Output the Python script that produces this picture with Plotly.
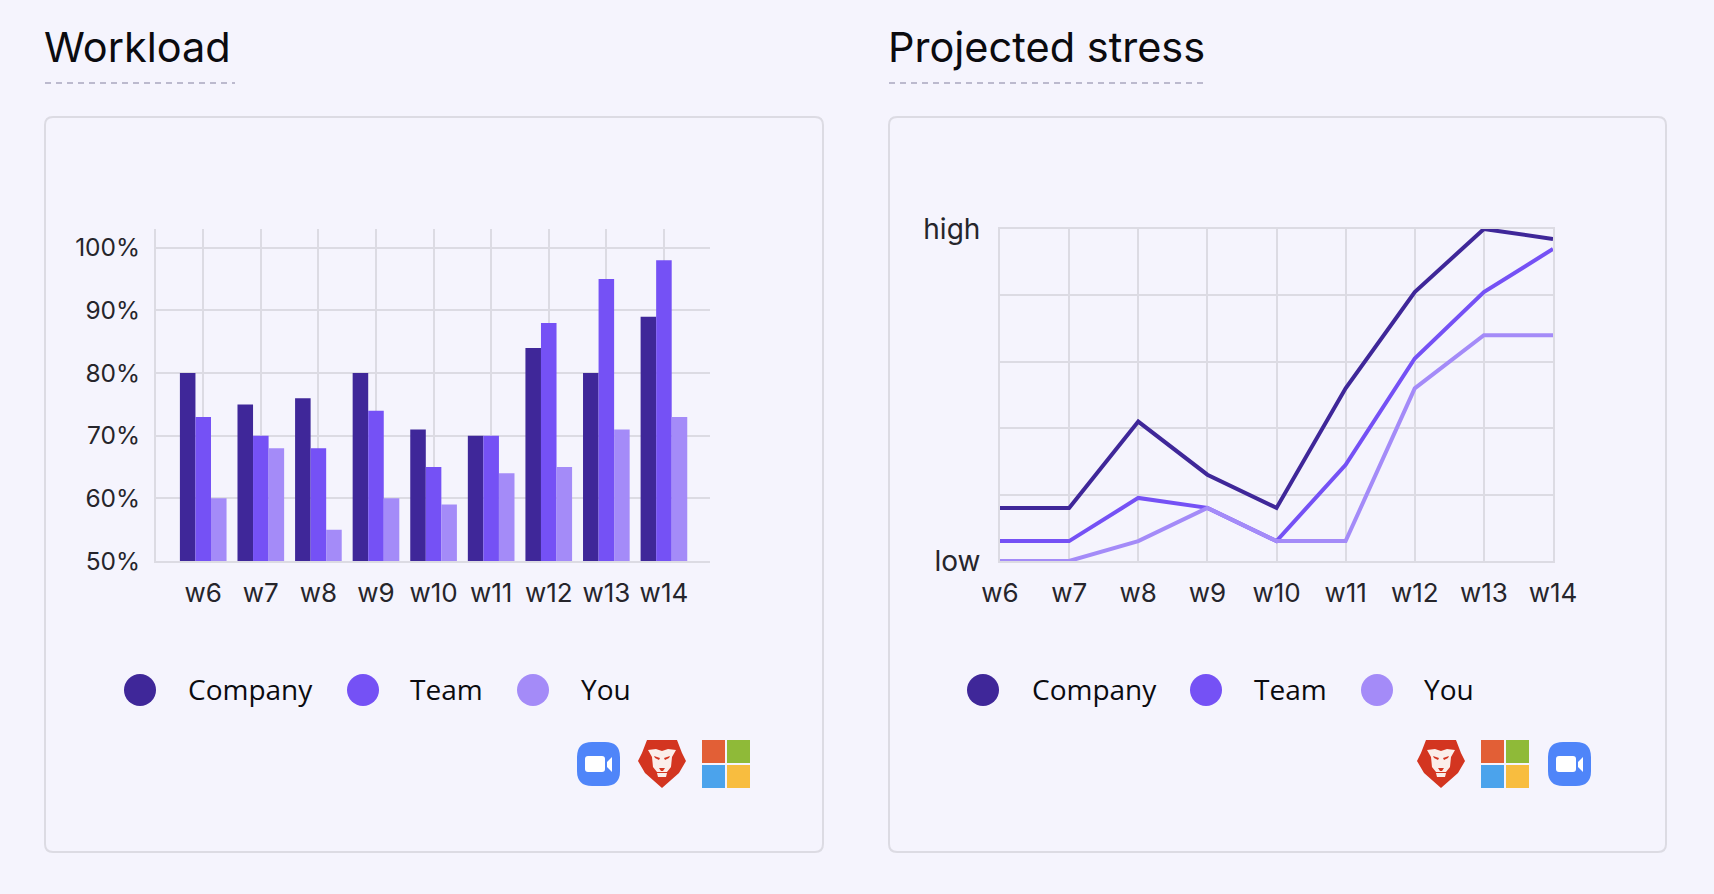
import plotly.graph_objects as go

W, H = 1714, 894

weeks = ["w6", "w7", "w8", "w9", "w10", "w11", "w12", "w13", "w14"]

# workload, percent
company_load = [80, 75, 76, 80, 71, 70, 84, 80, 89]
team_load = [73, 70, 68, 74, 65, 70, 88, 95, 98]
you_load = [60, 68, 55, 60, 59, 64, 65, 71, 73]
load_ticks = [50, 60, 70, 80, 90, 100]
load_labels = ["50%", "60%", "70%", "80%", "90%", "100%"]

# stress, 0 = low, 100 = high
company_stress = [16, 16, 42, 26, 16, 52, 81, 100, 97]
team_stress = [6, 6, 19, 16, 6, 29, 61, 81, 94]
you_stress = [0, 0, 6, 16, 6, 6, 52, 68, 68]
stress_ticks = [0, 20, 40, 60, 80, 100]
stress_labels = ["low", "", "", "", "", "high"]

series_names = ["Company", "Team", "You"]
DARK, MID, LIGHT = "#3f2799", "#7551f5", "#a48bf8"
colors = [DARK, MID, LIGHT]
BG = "#f5f4fd"
GRID = "#dcdbe3"
TICK_FONT = dict(family="Inter", size=24.5, color="#26252b")
WEEK_FONT = dict(family="Inter", size=26, color="#26252b")
LEVEL_FONT = dict(family="Inter", size=28, color="#26252b")


def fx(x):
    return x / W


def fy(y):
    return 1 - y / H


def path(points, close=True):
    s = "M" + " L".join(f"{fx(x):.5f},{fy(y):.5f}" for x, y in points)
    return s + (" Z" if close else "")


def rounded(x0, y0, x1, y1, r):
    # rounded rect in pixels, corners done with quadratic curves
    p = lambda x, y: f"{fx(x):.5f},{fy(y):.5f}"
    return (f"M{p(x0 + r, y0)} L{p(x1 - r, y0)} Q{p(x1, y0)} {p(x1, y0 + r)} "
            f"L{p(x1, y1 - r)} Q{p(x1, y1)} {p(x1 - r, y1)} "
            f"L{p(x0 + r, y1)} Q{p(x0, y1)} {p(x0, y1 - r)} "
            f"L{p(x0, y0 + r)} Q{p(x0, y0)} {p(x0 + r, y0)} Z")


shapes = []
annotations = []


def fill_shape(d, color):
    shapes.append(dict(type="path", xref="paper", yref="paper", path=d,
                       fillcolor=color, line=dict(width=0), layer="above"))


def zoom_icon(x, y):
    fill_shape(rounded(x, y, x + 43, y + 44, 15), "#4f85f9")
    fill_shape(rounded(x + 8, y + 14, x + 28, y + 30, 3), "#ffffff")
    fill_shape(path([(x + 30, y + 20), (x + 35, y + 15), (x + 35, y + 30), (x + 30, y + 25)]), "#ffffff")


def brave_icon(x, y):
    fill_shape(path([(x + 9, y), (x + 39, y), (x + 44, y + 13), (x + 48, y + 21), (x + 41, y + 33),
                     (x + 24, y + 48), (x + 7, y + 33), (x, y + 21), (x + 4, y + 13)]), "#d33520")
    # face
    fill_shape(path([(x + 10, y + 10), (x + 18, y + 9), (x + 24, y + 11), (x + 30, y + 9), (x + 38, y + 10),
                     (x + 34, y + 17), (x + 33, y + 27), (x + 29, y + 32), (x + 19, y + 32),
                     (x + 15, y + 27), (x + 14, y + 17)]), "#fbeeea")
    fill_shape(path([(x + 16, y + 16), (x + 22, y + 18), (x + 21, y + 20), (x + 17, y + 18)]), "#d33520")
    fill_shape(path([(x + 32, y + 16), (x + 26, y + 18), (x + 27, y + 20), (x + 31, y + 18)]), "#d33520")
    fill_shape(path([(x + 21, y + 28), (x + 27, y + 28), (x + 25, y + 31), (x + 23, y + 31)]), "#d33520")
    fill_shape(path([(x + 19, y + 33), (x + 29, y + 33), (x + 28, y + 37), (x + 20, y + 37)]), "#fbeeea")


def ms_icon(x, y):
    tile = 23
    fill_shape(path([(x, y), (x + tile, y), (x + tile, y + tile), (x, y + tile)]), "#e25f36")
    fill_shape(path([(x + 25, y), (x + 48, y), (x + 48, y + tile), (x + 25, y + tile)]), "#8fba38")
    fill_shape(path([(x, y + 25), (x + tile, y + 25), (x + tile, y + 48), (x, y + 48)]), "#4ba3ec")
    fill_shape(path([(x + 25, y + 25), (x + 48, y + 25), (x + 48, y + 48), (x + 25, y + 48)]), "#f8bd3f")


def card(x0, x1, title, rule_end):
    shapes.append(dict(type="path", xref="paper", yref="paper", path=rounded(x0, 117, x1, 852, 8),
                       line=dict(color=GRID, width=2), fillcolor="rgba(0,0,0,0)", layer="below"))
    shapes.append(dict(type="line", xref="paper", yref="paper", x0=fx(x0), x1=fx(rule_end), y0=fy(83), y1=fy(83),
                       line=dict(color="#a9a6bf", width=1.5, dash="6px,5px")))
    annotations.append(dict(text=title, xref="paper", yref="paper", x=fx(x0 - 3), y=fy(47), showarrow=False,
                            xanchor="left", yanchor="middle", font=dict(family="Inter", size=41.5, color="#0b0b0f")))


def key(dots, labels):
    for name, color, cx, tx in zip(series_names, colors, dots, labels):
        shapes.append(dict(type="circle", xref="paper", yref="paper", x0=fx(cx - 16), x1=fx(cx + 16),
                           y0=fy(690 - 16), y1=fy(690 + 16), fillcolor=color, line=dict(width=0)))
        annotations.append(dict(text=name, xref="paper", yref="paper", x=fx(tx), y=fy(689), showarrow=False,
                                xanchor="left", yanchor="middle",
                                font=dict(family="Open Sans", size=28, color="#0b0b0f")))


card(45, 823, "Workload", 235)
card(889, 1666, "Projected stress", 1204)
key([140, 363, 533], [186, 408, 579])
key([983, 1206, 1377], [1030, 1252, 1422])
zoom_icon(577, 742)
brave_icon(638, 740)
ms_icon(702, 740)
brave_icon(1417, 740)
ms_icon(1481, 740)
zoom_icon(1548, 742)

fig = go.Figure()

for name, vals, color in zip(series_names, [company_load, team_load, you_load], colors):
    fig.add_trace(go.Bar(x=weeks, y=vals, name=name, marker=dict(color=color, line=dict(width=0)),
                         xaxis="x", yaxis="y", showlegend=False))

for name, vals, color in zip(series_names, [company_stress, team_stress, you_stress], colors):
    fig.add_trace(go.Scatter(x=weeks, y=vals, name=name, mode="lines", line=dict(color=color, width=4),
                             xaxis="x2", yaxis="y2", showlegend=False))

fig.update_layout(
    width=W, height=H, margin=dict(l=0, r=0, t=0, b=0, autoexpand=False),
    paper_bgcolor=BG, plot_bgcolor=BG,
    barmode="group", bargap=0.19, bargroupgap=0,
    shapes=shapes, annotations=annotations,
    xaxis=dict(domain=[fx(156), fx(710)], anchor="y", type="category", categoryorder="array", categoryarray=weeks,
               range=[-0.82, 8.8], showgrid=True, gridcolor=GRID, gridwidth=1.5, showline=True, linecolor=GRID,
               linewidth=2, tickfont=WEEK_FONT, ticklabelstandoff=8, ticks=""),
    yaxis=dict(domain=[fy(561), fy(229)], anchor="x", range=[50, 103], tickvals=load_ticks, ticktext=load_labels,
               showgrid=True, gridcolor=GRID, gridwidth=2, showline=True, linecolor=GRID, linewidth=2,
               zeroline=False, tickfont=TICK_FONT, ticklabelstandoff=9, ticks=""),
    xaxis2=dict(domain=[fx(1000), fx(1553)], anchor="y2", type="category", categoryorder="array",
                categoryarray=weeks, range=[0, 8], showgrid=True, gridcolor=GRID, gridwidth=1.5, showline=True,
                mirror=True, linecolor=GRID, linewidth=2, tickfont=WEEK_FONT, ticklabelstandoff=8, ticks=""),
    yaxis2=dict(domain=[fy(561), fy(229)], anchor="x2", range=[0, 100], tickvals=stress_ticks,
                ticktext=stress_labels, showgrid=True, gridcolor=GRID, gridwidth=2, showline=True, mirror=True,
                linecolor=GRID, linewidth=2, zeroline=False, tickfont=LEVEL_FONT, ticklabelstandoff=12, ticks=""),
)

fig.write_html("out.html", config={"displayModeBar": False},
               post_script="document.body.style.margin='0';document.body.style.background='%s';" % BG)
